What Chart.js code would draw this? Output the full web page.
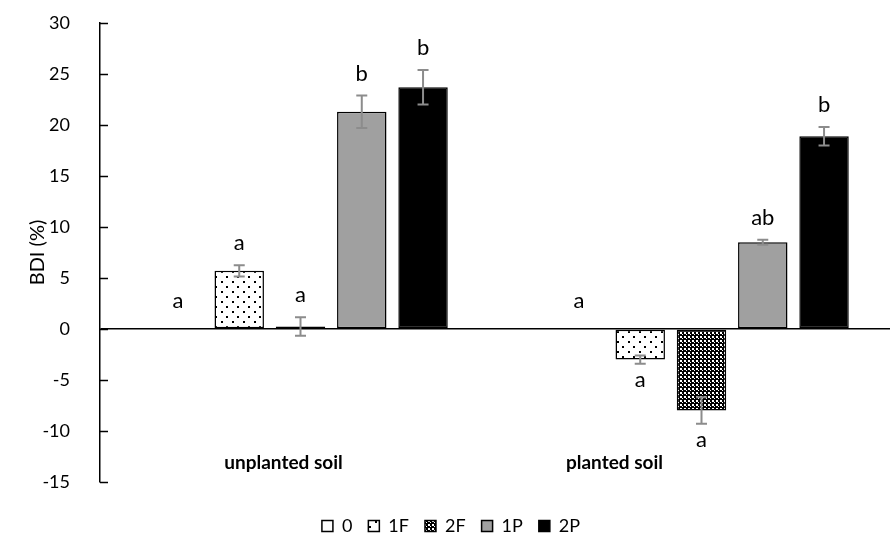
<!DOCTYPE html>
<html><head><meta charset="utf-8">
<script src="https://cdn.jsdelivr.net/npm/chart.js@4"></script>
<style>html,body{margin:0;padding:0;background:#fff;overflow:hidden}#wrap{width:902px;height:545px;position:relative}</style>
</head><body><div id="wrap"><canvas id="c"></canvas></div>
<script>
const categories = ['unplanted soil', 'planted soil'];
const seriesNames = ['0', '1F', '2F', '1P', '2P'];
const values0  = [0, 0];
const values1F = [5.7, -3.0];
const values2F = [0.25, -8.0];
const values1P = [21.3, 8.5];
const values2P = [23.7, 18.9];
const err0  = [0, 0];
const err1F = [0.55, 0.4];
const err2F = [0.9, 1.3];
const err1P = [1.6, 0.25];
const err2P = [1.7, 0.9];
const letters0  = ['a', 'a'];
const letters1F = ['a', 'a'];
const letters2F = ['a', 'a'];
const letters1P = ['b', 'ab'];
const letters2P = ['b', 'b'];
const yMin = -15, yMax = 30, yStep = 5;

const FONT = 'Lato, "Open Sans", sans-serif';

function dotPattern() {
  const c = document.createElement('canvas'); c.width = 11; c.height = 10;
  const g = c.getContext('2d');
  g.fillStyle = '#fff'; g.fillRect(0, 0, 11, 10);
  g.fillStyle = '#000'; g.fillRect(1, 1, 2, 2); g.fillRect(6, 6, 2, 2);
  return g.createPattern(c, 'repeat');
}
function checkPattern() {
  const c = document.createElement('canvas'); c.width = 4; c.height = 4;
  const g = c.getContext('2d');
  g.fillStyle = '#000'; g.fillRect(0, 0, 4, 4);
  g.fillStyle = '#fff'; g.fillRect(0, 0, 2, 2); g.fillRect(2, 2, 1, 1);
  return g.createPattern(c, 'repeat');
}

const allValues = [values0, values1F, values2F, values1P, values2P];
const allErrors = [err0, err1F, err2F, err1P, err2P];
const allLetters = [letters0, letters1F, letters2F, letters1P, letters2P];
const fills = ['#ffffff', dotPattern(), checkPattern(), '#a0a0a0', '#000000'];

const datasets = seriesNames.map((n, i) => ({
  label: n,
  data: allValues[i],
  backgroundColor: fills[i],
  borderColor: '#000',
  borderWidth: 1.5,
  borderSkipped: false,
  categoryPercentage: 0.764,
  barPercentage: 0.807
}));

const extras = {
  id: 'extras',
  afterDatasetsDraw(chart) {
    const ctx = chart.ctx, y = chart.scales.y, x = chart.scales.x, ca = chart.chartArea;
    ctx.save();
    ctx.strokeStyle = '#000'; ctx.lineWidth = 1.5;
    for (let v = yMin; v <= yMax; v += yStep) {
      const py = Math.round(y.getPixelForValue(v)) + 0.5;
      ctx.beginPath(); ctx.moveTo(ca.left, py); ctx.lineTo(ca.left + 8, py); ctx.stroke();
    }
    chart.data.datasets.forEach((ds, i) => {
      const meta = chart.getDatasetMeta(i);
      meta.data.forEach((bar, j) => {
        const v = allValues[i][j], e = allErrors[i][j];
        if (e > 0) {
          const yt = y.getPixelForValue(v + e), yb = y.getPixelForValue(v - e);
          ctx.strokeStyle = '#8c8c8c'; ctx.lineWidth = 2;
          ctx.beginPath();
          ctx.moveTo(bar.x, yt); ctx.lineTo(bar.x, yb);
          ctx.moveTo(bar.x - 5.5, yt); ctx.lineTo(bar.x + 5.5, yt);
          ctx.moveTo(bar.x - 5.5, yb); ctx.lineTo(bar.x + 5.5, yb);
          ctx.stroke();
        }
        ctx.fillStyle = '#000';
        ctx.font = '22px ' + FONT;
        ctx.textAlign = 'center'; ctx.textBaseline = 'middle';
        const ly = v >= 0 ? y.getPixelForValue(v + e) - (e > 0 ? 22 : 28) : y.getPixelForValue(v - e) + 16;
        ctx.fillText(allLetters[i][j], bar.x, ly);
      });
    });
    ctx.font = 'bold 19px ' + FONT;
    ctx.fillStyle = '#000'; ctx.textAlign = 'center'; ctx.textBaseline = 'middle';
    const offs = [-17, -87];
    categories.forEach((c, k) => {
      ctx.fillText(c, x.getPixelForValue(k) + offs[k], ca.bottom - 19);
    });
    ctx.restore();
  }
};

new Chart(document.getElementById('c'), {
  type: 'bar',
  data: { labels: categories, datasets },
  options: {
    responsive: true,
    maintainAspectRatio: false,
    animation: false,
    layout: { padding: { top: 23, right: 0, left: 0, bottom: 0 } },
    plugins: {
      legend: {
        position: 'bottom',
        labels: {
          boxWidth: 11, boxHeight: 11, padding: 16, color: '#000',
          font: { family: FONT, size: 18 }
        }
      },
      tooltip: { enabled: false }
    },
    scales: {
      x: {
        display: true,
        grid: { display: false, drawTicks: false },
        border: { display: false },
        ticks: { display: false },
        afterFit(s) { s.height = 19; }
      },
      y: {
        min: yMin, max: yMax,
        ticks: { stepSize: yStep, padding: 30, color: '#000', font: { family: FONT, size: 18 } },
        grid: {
          drawTicks: false,
          color: (c) => (c.tick && c.tick.value === 0 ? '#000' : 'rgba(0,0,0,0)'),
          lineWidth: 1.5
        },
        border: { display: true, color: '#000', width: 1.5 },
        title: { display: true, text: 'BDI (%)', color: '#000', font: { family: FONT, size: 20 }, padding: { top: 26, bottom: 0 } },
        afterFit(s) { s.width = 100; s.paddingTop = 0; s.paddingBottom = 0; }
      }
    }
  },
  plugins: [extras]
});
</script>
</body></html>
